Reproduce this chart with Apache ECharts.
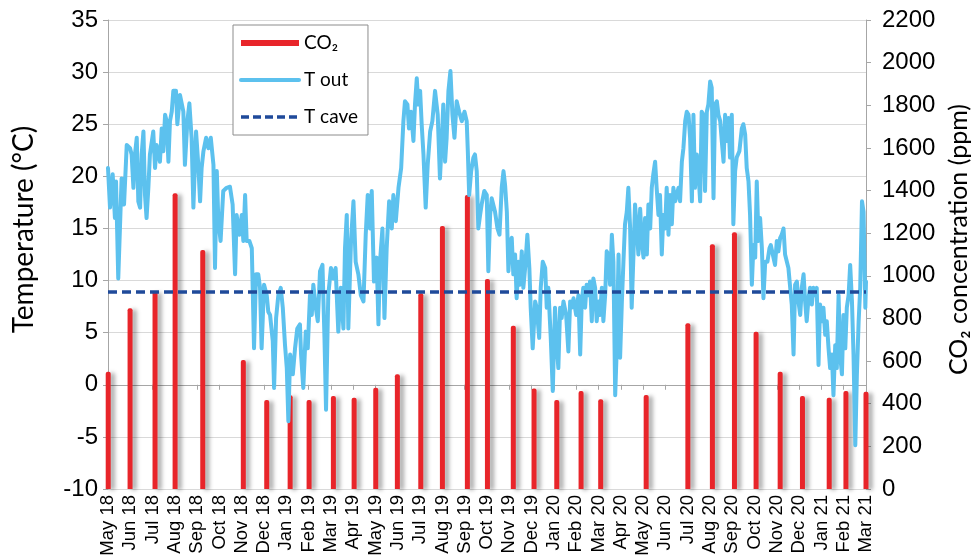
<!DOCTYPE html>
<html>
<head>
<meta charset="utf-8">
<script src="https://cdn.jsdelivr.net/npm/echarts@6/dist/echarts.min.js"></script>
<style>
html,body{margin:0;padding:0;background:#fff;}
#chart{width:973px;height:558px;}
</style>
</head>
<body>
<div id="chart"></div>
<script>
// Month tick labels (x axis, one per month, index 0 = May 18)
var months = ['May 18','Jun 18','Jul 18','Aug 18','Sep 18','Oct 18','Nov 18','Dec 18',
  'Jan 19','Feb 19','Mar 19','Apr 19','May 19','Jun 19','Jul 19','Aug 19','Sep 19','Oct 19','Nov 19','Dec 19',
  'Jan 20','Feb 20','Mar 20','Apr 20','May 20','Jun 20','Jul 20','Aug 20','Sep 20','Oct 20','Nov 20','Dec 20',
  'Jan 21','Feb 21','Mar 21'];

// CO2 measurements: position in months since May 18, value in ppm
var co2Month = [0.01,0.99,2.11,3.01,4.25,6.07,7.12,8.17,9.02,10.11,11.04,12.01,12.98,14.03,15.0,16.12,
  17.02,18.18,19.11,20.13,21.22,22.1,24.14,26.01,27.11,28.1,29.07,30.15,31.15,32.35,33.1,34.0];
var co2Ppm = [550,848,926,1387,1121,605,417,440,417,436,428,475,538,918,1234,1379,
  985,766,472,417,460,421,441,777,1148,1204,738,550,436,428,460,456];

// Outside temperature: position in months since May 18, temperature in degC
var tOutMonth = [
  0.00,0.09,0.21,0.31,0.36,0.46,0.61,0.72,0.84,0.99,1.06,1.14,1.21,1.29,1.36,1.44,1.51,1.59,1.66,1.73,1.81,1.88,
  2.03,2.11,2.18,2.33,2.41,2.48,2.56,2.63,2.71,2.78,2.86,2.93,3.05,3.11,3.23,3.38,3.45,3.56,3.65,3.75,3.83,3.95,
  4.05,4.13,4.20,4.28,4.40,4.50,4.61,4.73,4.80,4.88,4.95,5.05,5.17,5.32,5.47,5.59,5.70,5.77,5.89,6.00,6.07,6.15,
  6.22,6.34,6.45,6.49,6.55,6.64,6.74,6.82,6.89,7.00,7.12,7.19,7.27,7.39,7.45,7.54,7.64,7.75,7.84,7.94,8.02,8.09,
  8.17,8.29,8.39,8.49,8.61,
  8.66,8.76,8.87,8.96,9.06,9.14,9.21,9.32,9.41,9.51,9.62,9.71,9.78,9.88,10.00,10.11,10.21,10.33,10.44,10.56,10.63,
  10.71,10.78,10.90,11.01,11.11,11.23,11.34,11.46,11.56,11.65,11.75,11.83,11.93,12.05,12.13,12.20,12.31,12.40,12.50,
  12.61,12.73,12.80,12.91,13.03,13.15,13.25,13.32,13.43,13.50,13.59,13.70,13.77,13.85,13.92,14.00,14.07,14.15,14.25,
  14.34,14.45,14.55,14.67,14.79,14.89,14.97,15.04,15.12,15.19,15.27,15.36,15.45,15.54,15.64,15.75,15.87,15.99,16.09,
  16.14,16.20,16.29,16.39,16.46,16.54,16.61,16.69,16.76,16.88,16.99,17.06,17.14,17.21,
  17.36,17.47,17.56,17.66,17.74,17.81,17.89,17.96,18.04,18.11,18.18,18.26,18.33,18.41,18.48,18.56,18.63,18.71,18.81,
  18.90,18.96,19.05,19.16,19.23,19.34,19.41,19.50,19.61,19.68,19.75,19.86,19.95,20.05,20.13,20.20,20.28,20.35,20.43,
  20.55,20.65,20.73,20.80,20.88,21.00,21.10,21.18,21.25,21.32,21.40,21.47,21.55,21.62,21.70,21.77,21.85,21.92,22.00,
  22.07,22.15,22.22,22.30,22.37,22.45,22.52,22.60,22.67,22.75,22.82,22.90,22.97,23.05,23.12,23.19,23.27,23.34,23.42,
  23.49,23.57,23.64,23.72,23.79,23.87,23.94,24.02,24.09,24.17,24.24,24.32,24.39,24.46,24.54,24.61,24.69,24.76,24.84,
  24.91,24.99,25.06,25.14,25.21,25.29,25.36,25.44,25.51,25.59,25.66,25.74,25.81,25.89,25.96,26.04,26.11,
  26.19,26.26,26.33,26.41,26.48,26.56,26.63,26.71,26.78,26.86,26.93,27.01,27.08,27.16,27.23,27.31,27.38,27.46,27.53,
  27.61,27.68,27.76,27.83,27.90,27.98,28.05,28.13,28.20,28.32,28.43,28.50,28.58,28.65,28.73,28.80,28.88,28.95,29.03,
  29.10,29.18,29.25,29.33,29.40,29.48,29.58,29.67,29.73,29.82,29.92,30.00,30.07,30.15,30.22,30.30,30.37,30.45,30.52,
  30.60,30.67,30.75,30.82,30.90,30.97,31.05,31.12,31.20,31.27,31.34,31.42,31.49,31.57,31.64,31.72,31.79,31.87,31.94,
  32.02,32.09,32.17,32.24,32.32,32.39,32.47,32.54,32.62,32.69,32.77,32.84,32.92,32.99,33.07,33.14,33.22,33.29,33.37,
  33.44,33.52,33.59,33.67,33.74,33.82,33.89,33.97,34.00];
var tOutTemp = [
  20.8,17.0,20.2,16.0,19.5,10.2,19.8,17.3,23.0,22.7,22.1,18.9,22.1,23.7,17.6,17.0,22.1,24.3,18.2,16.0,18.9,22.1,
  24.3,20.8,23.0,21.4,24.6,22.4,25.9,25.3,21.4,25.3,26.2,28.2,28.2,25.0,27.8,26.2,21.1,25.3,27.0,23.7,17.0,24.3,
  21.1,17.6,20.8,22.4,23.7,22.7,23.7,21.1,11.2,20.5,15.7,13.8,18.6,18.9,19.0,17.3,10.6,16.3,14.4,16.3,13.8,18.2,
  13.8,13.8,13.1,9.3,3.5,10.6,10.6,9.3,3.5,9.6,8.6,7.0,6.7,4.2,-0.3,6.4,8.6,9.3,7.4,3.8,1.6,-3.5,
  2.9,1.0,3.5,5.4,5.8,
  2.9,-0.3,5.1,3.5,8.6,6.7,9.6,7.4,6.1,10.9,11.5,4.5,-2.4,8.6,11.2,10.2,11.2,5.1,9.3,5.4,13.1,
  16.3,5.4,13.8,17.6,11.8,10.6,8.6,8.0,14.4,18.2,15.0,18.6,9.9,12.2,5.8,11.8,15.0,6.4,13.1,
  17.6,15.0,18.2,15.7,18.9,20.8,25.3,27.2,26.9,24.6,26.2,23.4,26.9,29.4,26.9,28.2,25.0,22.1,17.0,
  21.1,24.3,25.3,28.2,25.9,19.8,23.4,26.9,21.4,23.7,28.2,30.1,25.9,23.7,27.2,26.2,25.3,26.2,25.3,
  22.4,18.2,20.5,21.8,22.1,20.5,15.0,16.3,17.3,18.6,18.2,10.9,16.3,17.9,
  16.6,15.0,14.4,18.9,20.5,19.2,16.6,10.9,13.8,14.1,10.6,12.5,8.3,11.8,9.6,12.8,9.3,11.2,14.4,
  11.2,7.4,3.5,8.0,7.4,4.5,9.3,11.8,11.2,7.4,9.3,4.5,-0.6,7.4,3.8,1.6,7.4,6.4,8.0,
  6.7,3.2,8.0,7.4,8.3,6.7,8.6,2.9,8.0,9.3,7.4,9.6,8.6,9.9,6.1,10.2,9.3,6.1,8.0,
  6.7,9.3,6.1,8.6,12.8,12.5,9.6,14.4,11.8,-1.0,3.5,12.5,2.6,8.0,11.8,15.4,16.6,18.9,15.0,
  7.4,12.5,17.3,15.0,12.5,16.9,13.8,12.2,16.0,12.5,17.3,15.0,18.9,20.2,21.4,18.9,16.3,18.2,12.5,
  16.3,15.0,18.9,14.4,18.2,15.4,18.9,17.6,18.2,18.9,17.6,21.4,22.7,25.3,26.2,25.9,23.7,
  17.6,25.9,18.9,22.1,20.5,17.6,26.2,25.9,18.6,26.2,26.9,29.1,28.5,17.9,26.9,27.2,25.9,25.3,23.4,
  21.4,25.9,23.4,25.6,21.8,25.9,15.4,20.5,21.8,22.4,24.6,25.0,24.0,20.8,19.5,16.3,9.6,13.4,12.2,
  19.5,13.8,16.0,13.1,8.3,11.8,11.8,13.1,13.4,12.5,11.5,13.8,12.8,14.1,14.4,15.0,12.5,11.8,11.2,
  9.3,7.7,2.9,9.6,9.9,8.0,6.7,9.3,10.6,8.0,6.1,8.3,9.3,7.7,9.3,8.6,9.3,1.9,7.7,
  6.1,7.4,4.8,6.1,3.5,1.6,2.9,-1.0,3.8,1.6,8.6,2.9,1.0,6.7,3.5,7.4,8.6,11.5,8.0,
  2.9,-5.8,0.9,6.1,9.3,17.6,16.6,7.4,9.9];

// Cave temperature (constant over the period)
var tCaveMonth = [0, 34];
var tCaveTemp = [8.9, 8.9];

function pairs(xs, ys) { return xs.map(function (x, i) { return [x, ys[i]]; }); }

var chart = echarts.init(document.getElementById('chart'), null, {renderer: 'canvas'});
var axisGray = '#a6a6a6';
var labelFont = 'Liberation Sans, Arial, sans-serif';
var titleFont = 'Lato, Open Sans, sans-serif';
var tOutColor = '#5cc1ee';
var tCaveColor = '#1f4a9a';

chart.setOption({
  animation: false,
  backgroundColor: '#ffffff',
  grid: {left: 108, right: 107, top: 20, bottom: 69, containLabel: false, outerBoundsMode: 'none'},
  legend: {
    orient: 'vertical',
    left: 233, top: 25,
    padding: [7, 10, 7, 6],
    itemGap: 15,
    itemWidth: 58,
    itemHeight: 6,
    backgroundColor: '#ffffff',
    borderColor: '#8c8c8c',
    borderWidth: 1,
    textStyle: {fontFamily: titleFont, fontSize: 19, color: '#000', lineHeight: 22},
    data: [
      {name: 'CO₂', icon: 'rect'},
      {name: 'T out', itemStyle: {opacity: 0}, lineStyle: {width: 4, color: tOutColor}},
      {name: 'T cave', itemStyle: {opacity: 0}, lineStyle: {width: 3.5, color: tCaveColor, type: [8, 4]}}
    ]
  },
  xAxis: {
    type: 'value',
    min: 0, max: 34, interval: 1,
    axisLine: {show: true, lineStyle: {color: axisGray, width: 1}},
    axisTick: {show: true, length: 5, lineStyle: {color: axisGray}},
    splitLine: {show: false},
    axisLabel: {
      rotate: 90, margin: 6,
      fontFamily: labelFont, fontSize: 18.5, color: '#000',
      formatter: function (v) { return months[Math.round(v)] || ''; }
    }
  },
  yAxis: [
    {
      type: 'value', min: -10, max: 35, interval: 5,
      name: 'Temperature (°C)', nameLocation: 'middle', nameGap: 70, nameRotate: 90,
      nameTextStyle: {fontFamily: titleFont, fontSize: 28, color: '#000', padding: [0, 0, 0, 50]},
      axisLine: {show: true, lineStyle: {color: axisGray}},
      axisTick: {show: true, length: 5, lineStyle: {color: axisGray}},
      splitLine: {show: true, lineStyle: {color: '#d9d9d9', width: 1}},
      axisLabel: {fontFamily: labelFont, fontSize: 24, color: '#000', margin: 10}
    },
    {
      type: 'value', min: 0, max: 2200, interval: 200, position: 'right',
      name: 'CO₂ concentration (ppm)', nameLocation: 'middle', nameGap: 80, nameRotate: 90,
      nameTextStyle: {fontFamily: titleFont, fontSize: 25, color: '#000', padding: [0, 0, 0, 30]},
      axisLine: {show: true, lineStyle: {color: axisGray}},
      axisTick: {show: true, length: 5, lineStyle: {color: axisGray}},
      splitLine: {show: false},
      axisLabel: {fontFamily: labelFont, fontSize: 24, color: '#000', margin: 16,
        formatter: function (v) { return String(v); }}
    }
  ],
  series: [
    {
      name: 'CO₂', type: 'bar', yAxisIndex: 1, barWidth: 5, z: 2,
      itemStyle: {color: '#e8252a', borderRadius: [2, 2, 0, 0],
        shadowColor: 'rgba(0,0,0,0.35)', shadowBlur: 4, shadowOffsetX: 4, shadowOffsetY: 1},
      data: pairs(co2Month, co2Ppm)
    },
    {
      name: 'T out', type: 'line', yAxisIndex: 0, symbol: 'none', z: 3,
      lineStyle: {color: tOutColor, width: 4, join: 'round', cap: 'round'},
      itemStyle: {color: tOutColor},
      data: pairs(tOutMonth, tOutTemp)
    },
    {
      name: 'T cave', type: 'line', yAxisIndex: 0, symbol: 'none', z: 4,
      lineStyle: {color: tCaveColor, width: 3.5, type: [9, 5]},
      itemStyle: {color: tCaveColor},
      data: pairs(tCaveMonth, tCaveTemp)
    }
  ]
});
</script>
</body>
</html>
